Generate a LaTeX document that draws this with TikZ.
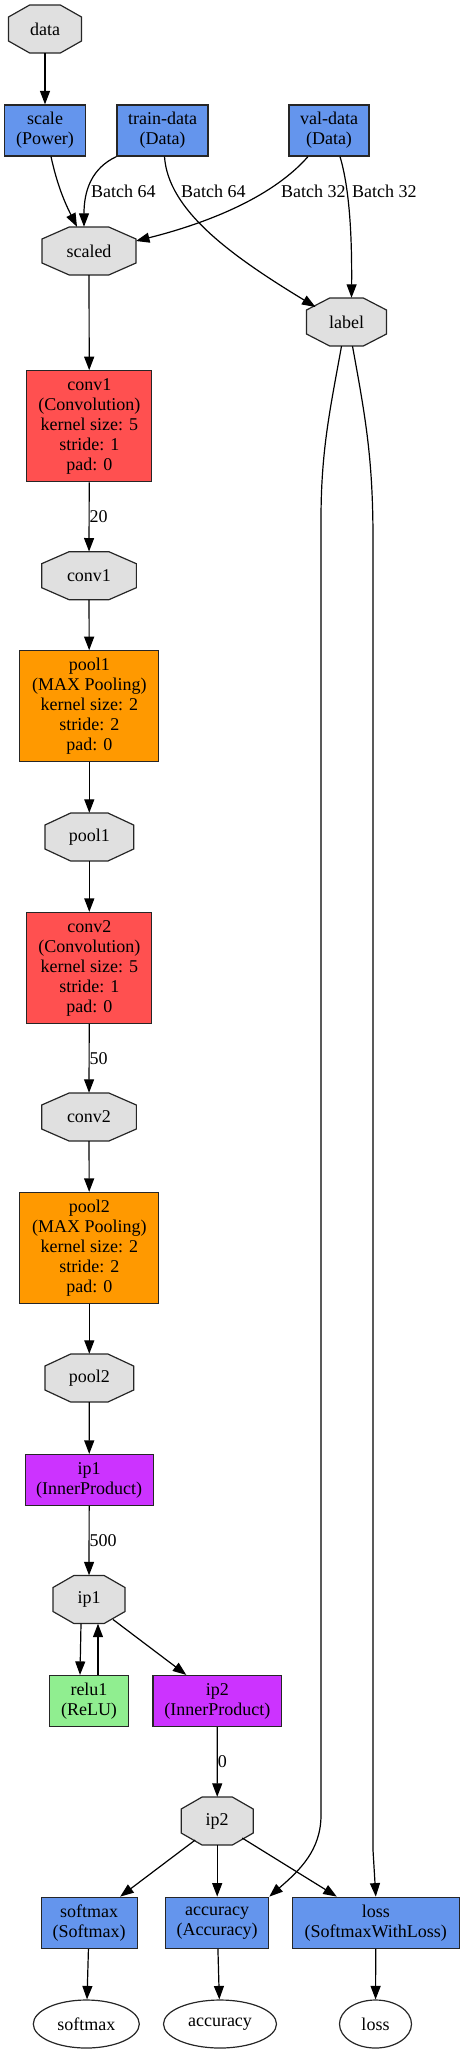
\documentclass[tikz,border=0pt]{standalone}
\usepackage{fontspec}
\setmainfont{Liberation Serif}
\usetikzlibrary{arrows.meta, shapes.geometric}
\definecolor{blobgray}{HTML}{E0E0E0}
\definecolor{layerblue}{HTML}{6495ED}
\definecolor{convred}{HTML}{FF5050}
\definecolor{poolorange}{HTML}{FF9900}
\definecolor{ippurple}{HTML}{CC33FF}
\definecolor{relugreen}{HTML}{90EE90}
\tikzset{%
  layerbox/.style={draw=black!85, line width=1.2pt, rectangle, align=center,
    inner sep=1pt, fill=layerblue, minimum height=51pt},
  deepbox/.style={layerbox, minimum height=111pt},
  blob/.style={inner sep=0pt, minimum height=48pt},
  blobshape/.style={draw=black!85, line width=1.2pt, fill=blobgray},
  outnode/.style={draw=black!85, line width=1.2pt, ellipse, inner sep=0pt, minimum height=48pt},
  edge/.style={line width=1.2pt, -{Triangle[length=13.5pt,width=10pt]}},
  elabel/.style={inner sep=0pt, anchor=west}
}
% octagon blob: name, x, y, width, text
\newcommand{\blobnode}[5]{%
  \filldraw[blobshape] ({#2-0.5*#4},{#3-12}) -- ({#2-0.21*#4},{#3-24}) -- ({#2+0.21*#4},{#3-24})
    -- ({#2+0.5*#4},{#3-12}) -- ({#2+0.5*#4},{#3+12}) -- ({#2+0.21*#4},{#3+24})
    -- ({#2-0.21*#4},{#3+24}) -- ({#2-0.5*#4},{#3+12}) -- cycle;
  \node[blob, minimum width=#4pt] (#1) at (#2,#3) {#5};
}

\begin{document}
\begin{tikzpicture}[x=1pt, y=-1pt, font=\fontsize{18}{20}\selectfont]
  \useasboundingbox (0,0) rectangle (464,2053);

  % inputs
  \blobnode{data}{45}{29}{73}{data}
  \node[layerbox, minimum width=81pt] (scale) at (45,130.5) {scale\\(Power)};
  \node[layerbox, minimum width=91pt] (traindata) at (162.5,130.5) {train-data\\(Data)};
  \node[layerbox, minimum width=80pt] (valdata) at (329,130.5) {val-data\\(Data)};
  \blobnode{scaled}{89}{251}{94}{scaled}
  \blobnode{label}{346.5}{322}{80}{label}

  % main column
  \node[deepbox, fill=convred, minimum width=125pt] (conv1) at (89.3,426.3) {conv1\\(Convolution)\\kernel size: 5\\stride: 1\\pad: 0};
  \blobnode{conv1b}{89}{575.7}{94.7}{conv1}
  \node[deepbox, fill=poolorange, minimum width=139pt] (pool1) at (89.3,706.3) {pool1\\(MAX Pooling)\\kernel size: 2\\stride: 2\\pad: 0};
  \blobnode{pool1b}{89.3}{837}{88.7}{pool1}
  \node[deepbox, fill=convred, minimum width=125pt] (conv2) at (89.3,968) {conv2\\(Convolution)\\kernel size: 5\\stride: 1\\pad: 0};
  \blobnode{conv2b}{89}{1117}{94.7}{conv2}
  \node[deepbox, fill=poolorange, minimum width=139pt] (pool2) at (89.3,1248) {pool2\\(MAX Pooling)\\kernel size: 2\\stride: 2\\pad: 0};
  \blobnode{pool2b}{89.3}{1378}{88.7}{pool2}
  \node[layerbox, fill=ippurple, minimum width=128pt] (ip1) at (89.2,1480) {ip1\\(InnerProduct)};
  \blobnode{ip1b}{89}{1599.5}{72}{ip1}
  \node[layerbox, fill=relugreen, minimum width=79pt] (relu1) at (89,1701) {relu1\\(ReLU)};
  \node[layerbox, fill=ippurple, minimum width=128.7pt] (ip2) at (217.3,1701) {ip2\\(InnerProduct)};
  \blobnode{ip2b}{217.2}{1821}{72}{ip2}

  % outputs
  \node[layerbox, minimum width=96pt] (softmax) at (89.2,1922.7) {softmax\\(Softmax)};
  \node[layerbox, minimum width=103pt] (accuracy) at (217.2,1922.7) {accuracy\\(Accuracy)};
  \node[layerbox, minimum width=167pt] (loss) at (375.8,1922.7) {loss\\(SoftmaxWithLoss)};
  \node[outnode, minimum width=106pt] (softmaxo) at (86.3,2024) {softmax};
  \node[outnode, minimum width=113pt] (accuracyo) at (220,2024) {accuracy};
  \node[outnode, minimum width=72pt] (losso) at (375.5,2024) {loss};

  % batch labels
  \node[elabel] (b64s) at (91,191) {Batch 64};
  \node[elabel] (b64l) at (181,191) {Batch 64};
  \node[elabel] (b32s) at (281,191) {Batch 32};
  \node[elabel] (b32l) at (352,191) {Batch 32};

  \draw[edge] (data) -- (scale);
  \draw[edge] ([shift={(6,0)}]scale.south) .. controls (57,184) and (64,201) .. ([shift={(-12,0)}]scaled.north);
  \draw[edge] (traindata.south west) .. controls (92,168) and (84,190) .. ([shift={(-5,0)}]scaled.north);
  \draw[edge] ([shift={(2,0)}]traindata.south) .. controls (168,210) and (230,255) .. ([shift={(-31,-15)}]label.center);
  \draw[edge] ([shift={(-21,0)}]valdata.south) .. controls (270,200) and (200,225) .. ([shift={(47,-10)}]scaled.center);
  \draw[edge] ([shift={(11,0)}]valdata.south) .. controls (350,190) and (352,240) .. ([shift={(5,0)}]label.north);

  \draw[edge] (scaled) -- (conv1);
  \draw[edge] (conv1) -- node[elabel, midway] {20} (conv1b);
  \draw[edge] (conv1b) -- (pool1);
  \draw[edge] (pool1) -- (pool1b);
  \draw[edge] (pool1b) -- (conv2);
  \draw[edge] (conv2) -- node[elabel, midway] {50} (conv2b);
  \draw[edge] (conv2b) -- (pool2);
  \draw[edge] (pool2) -- (pool2b);
  \draw[edge] (pool2b) -- (ip1);
  \draw[edge] (ip1) -- node[elabel, midway] {500} (ip1b);
  \draw[edge] ([shift={(-8,0)}]ip1b.south) -- ([shift={(-9,0)}]relu1.north);
  \draw[edge] ([shift={(9,0)}]relu1.north) -- ([shift={(9,0)}]ip1b.south);
  \draw[edge] ([shift={(24,20)}]ip1b.center) -- ([shift={(-31,0)}]ip2.north);
  \draw[edge] (ip2) -- node[elabel, midway] {0} (ip2b);

  \draw[edge] ([shift={(-22,19)}]ip2b.center) -- ([shift={(31,0)}]softmax.north);
  \draw[edge] (ip2b) -- (accuracy);
  \draw[edge] ([shift={(25,17)}]ip2b.center) -- ([shift={(-39,0)}]loss.north);
  \draw[edge] ([shift={(-5,0)}]label.south) .. controls (330,410) and (321,450) .. (321,520)
    -- (321,1815) .. controls (321,1850) and (300,1870) .. (accuracy.north east);
  \draw[edge] ([shift={(6,0)}]label.south) .. controls (366,420) and (373,460) .. (373,540)
    -- (373,1850) -- (loss.north);

  \draw[edge] (softmax) -- (softmaxo);
  \draw[edge] (accuracy) -- (accuracyo);
  \draw[edge] (loss) -- (losso);
\end{tikzpicture}
\end{document}
